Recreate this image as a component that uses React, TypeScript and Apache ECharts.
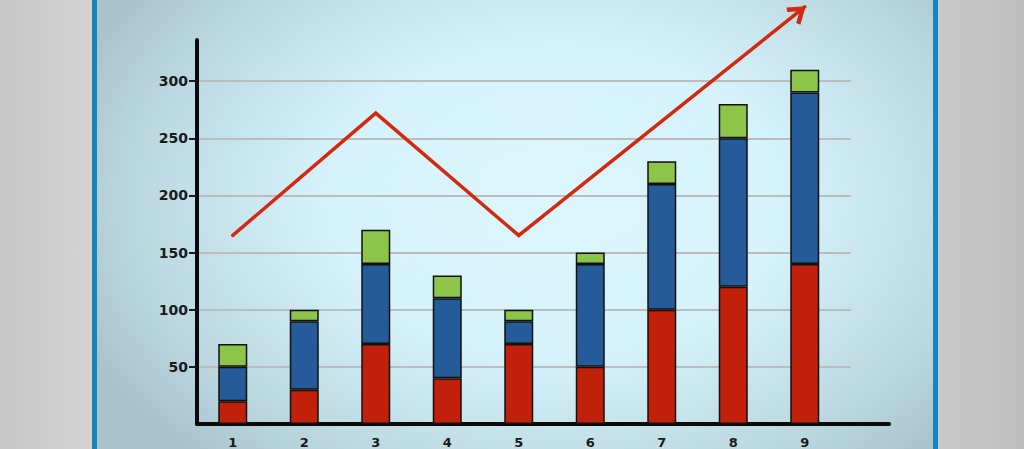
import React, { useEffect, useRef } from "react";
import * as echarts from "echarts";

const categories = ["1", "2", "3", "4", "5", "6", "7", "8", "9"];
const redValues = [20, 30, 70, 40, 70, 50, 100, 120, 140];
const blueValues = [30, 60, 70, 70, 20, 90, 110, 130, 150];
const greenValues = [20, 10, 30, 20, 10, 10, 20, 30, 20];
const trendValues: (number | null)[] = [165, null, 272, null, 165, null, null, null, 365];
const yTickValues = [50, 100, 150, 200, 250, 300];

const Y_MAX = 336;
const FONT = "'DejaVu Sans', Verdana, sans-serif";

export default function App() {
  const ref = useRef<HTMLDivElement>(null);

  useEffect(() => {
    if (!ref.current) return;
    const chart = echarts.init(ref.current, null, { renderer: "svg" });

    const trendData = trendValues.map((v, i) =>
      i === trendValues.length - 1 && v !== null
        ? {
            value: v,
            symbol: "path://M0,22 L14,0 L28,22 L23,25 L14,11 L5,25 Z",
            symbolSize: [22, 18],
            symbolRotate: -51,
            symbolOffset: [-6, 5],
            itemStyle: { color: "#d2290f" },
          }
        : v
    );

    const common = { top: 40, bottom: 25, left: 197 };

    chart.setOption({
      animation: false,
      backgroundColor: "transparent",
      grid: [
        { ...common, right: 1024 - 840.5 },
        { ...common, right: 1024 - 889 },
        { ...common, right: 1024 - 851 },
      ],
      xAxis: [
        {
          type: "category",
          gridIndex: 0,
          data: categories,
          axisLine: { show: false },
          axisTick: { show: false },
          axisLabel: {
            fontFamily: FONT,
            fontWeight: "bold",
            fontSize: 13,
            color: "#1a1a1a",
            margin: 12,
          },
        },
        {
          type: "value",
          gridIndex: 1,
          min: 0,
          max: 1,
          axisLine: {
            show: true,
            lineStyle: { color: "#0a0a0a", width: 4, cap: "round" },
          },
          axisTick: { show: false },
          axisLabel: { show: false },
          splitLine: { show: false },
        },
        {
          type: "value",
          gridIndex: 2,
          min: 0,
          max: 1,
          show: false,
        },
      ],
      yAxis: [
        {
          type: "value",
          gridIndex: 0,
          min: 0,
          max: Y_MAX,
          interval: 50,
          axisLine: {
            show: true,
            lineStyle: { color: "#0a0a0a", width: 4, cap: "round" },
          },
          axisTick: {
            show: true,
            length: 8,
            customValues: yTickValues,
            lineStyle: { color: "#1a1a1a", width: 2 },
          },
          axisLabel: {
            customValues: yTickValues,
            fontFamily: FONT,
            fontWeight: "bold",
            fontSize: 14,
            color: "#1a1a1a",
            margin: 9,
          },
          splitLine: { show: false },
        },
        {
          type: "value",
          gridIndex: 1,
          min: 0,
          max: Y_MAX,
          show: false,
        },
        {
          type: "value",
          gridIndex: 2,
          min: 0,
          max: Y_MAX,
          interval: 50,
          axisLine: { show: false },
          axisTick: { show: false },
          axisLabel: { show: false },
          splitLine: {
            show: true,
            showMinLine: false,
            showMaxLine: false,
            lineStyle: { color: "#bcbcbc", width: 2 },
          },
        },
      ],
      series: [
        {
          type: "bar",
          name: "red",
          stack: "s",
          xAxisIndex: 0,
          yAxisIndex: 0,
          barWidth: 29,
          data: redValues,
          itemStyle: { color: "#c1200b", borderColor: "#111", borderWidth: 1.5 },
        },
        {
          type: "bar",
          name: "blue",
          stack: "s",
          xAxisIndex: 0,
          yAxisIndex: 0,
          barWidth: 29,
          data: blueValues,
          itemStyle: { color: "#255b98", borderColor: "#111", borderWidth: 1.5 },
        },
        {
          type: "bar",
          name: "green",
          stack: "s",
          xAxisIndex: 0,
          yAxisIndex: 0,
          barWidth: 29,
          data: greenValues,
          itemStyle: { color: "#8dc54b", borderColor: "#111", borderWidth: 1.5 },
        },
        {
          type: "line",
          name: "trend",
          xAxisIndex: 0,
          yAxisIndex: 0,
          data: trendData,
          connectNulls: true,
          clip: false,
          symbol: "none",
          lineStyle: { color: "#d2290f", width: 3.5, cap: "round", join: "miter" },
          itemStyle: { color: "#d2290f" },
          z: 5,
        },
      ],
    });

    return () => chart.dispose();
  }, []);

  return (
    <div
      style={{
        position: "fixed",
        left: 0,
        top: 0,
        width: 1024,
        height: 449,
        overflow: "hidden",
        background:
          "linear-gradient(90deg, #c6c6c6 0%, #d4d4d4 9%, #d0d0d0 50%, #cacaca 91%, #bebebe 100%)",
      }}
    >
      <div
        style={{
          position: "absolute",
          left: 92,
          top: -10,
          width: 836,
          height: 469,
          borderLeft: "5px solid #1784c0",
          borderRight: "5px solid #1784c0",
          background:
            "radial-gradient(ellipse 62% 75% at 55% 45%, #dcf7fd 0%, #d5f1fa 45%, #bcd9e2 80%, #a9c3cc 100%)",
        }}
      />
      <div
        ref={ref}
        style={{ position: "absolute", left: 0, top: 0, width: 1024, height: 449 }}
      />
    </div>
  );
}
